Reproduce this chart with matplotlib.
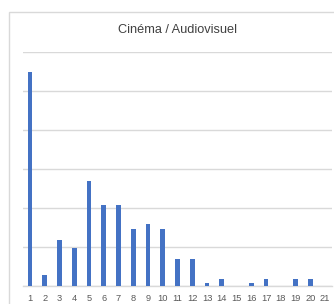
import matplotlib
matplotlib.use("Agg")
import matplotlib.pyplot as plt
from matplotlib.patches import Rectangle

categories = [str(i) for i in range(1, 22)]
values = [55.0, 2.8, 11.8, 9.7, 26.9, 20.8, 20.8, 14.6, 15.9, 14.6,
          6.9, 6.9, 0.8, 1.8, 0.0, 0.8, 1.8, 0.0, 1.8, 1.8, 0.0]
title = "Cinéma / Audiovisuel"

W, H = 334, 304
fig = plt.figure(figsize=(W / 100, H / 100), dpi=100)
fig.patch.set_facecolor("white")

# chart border
fig.patches.append(Rectangle((9 / W, -0.05), 1.2, (H - 12) / H + 0.05,
                             transform=fig.transFigure, fill=False,
                             edgecolor="#D9D9D9", linewidth=1.0))

ax = fig.add_axes([22.6 / W, (H - 286) / H, (332.4 - 22.6) / W, (286 - 52) / H])
x = list(range(len(categories)))
ax.bar(x, values, width=0.33, color="#4472C4", zorder=3)
ax.set_xlim(-0.5, len(categories) - 0.5)
ax.set_ylim(0, 60)
ax.set_yticks([0, 10, 20, 30, 40, 50, 60])
ax.yaxis.grid(True, color="#D9D9D9", linewidth=1.0, zorder=0)
ax.tick_params(axis="y", left=False, labelleft=False)
ax.set_xticks(x)
ax.set_xticklabels(categories, fontsize=6.7, color="#595959", family="Liberation Sans")
ax.tick_params(axis="x", length=0, pad=6)
for s in ["top", "right", "left"]:
    ax.spines[s].set_visible(False)
ax.spines["bottom"].set_color("#D9D9D9")
ax.spines["bottom"].set_linewidth(1.0)

fig.text(177 / W, (H - 30) / H, title, ha="center", va="center",
         fontsize=9.2, color="#404040", family="Liberation Sans")

fig.savefig("out.png", dpi=100)
